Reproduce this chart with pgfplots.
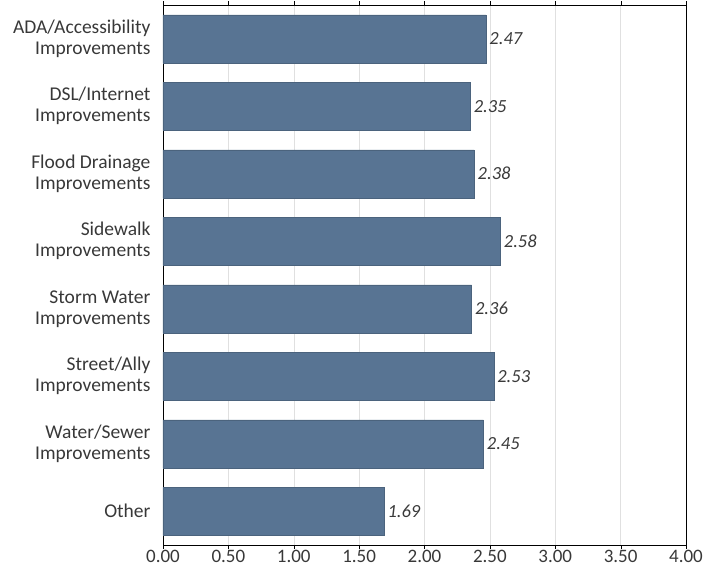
\documentclass[border=0pt]{standalone}
\usepackage{pgfplots}
\pgfplotsset{compat=1.18}
\usepackage{fontspec}
\setmainfont{Carlito}
\definecolor{barblue}{HTML}{587493}
\definecolor{valgray}{HTML}{3A3A3A}
\begin{document}
\begin{tikzpicture}
\begin{axis}[
  name=ax,
  scale only axis,
  width=523pt, height=540pt,
  xmin=0, xmax=4,
  ymin=-0.5, ymax=7.5,
  y dir=reverse,
  xbar, bar width=48pt,
  xtick={0,0.5,...,4},
  /pgf/number format/assume math mode=true,
  xticklabel={\pgfmathprintnumber[fixed,fixed zerofill,precision=2]{\tick}},
  ytick={0,...,7},
  yticklabels={{ADA/Accessibility\\Improvements},{DSL/Internet\\Improvements},{Flood Drainage\\Improvements},{Sidewalk\\Improvements},{Storm Water\\Improvements},{Street/Ally\\Improvements},{Water/Sewer\\Improvements},{Other}},
  yticklabel style={align=right, font=\fontsize{19.5}{21}\selectfont, text=black!78, xshift=-5pt},
  xticklabel style={font=\fontsize{19}{21}\selectfont, text=black!78, yshift=2pt},
  major tick length=4pt,
  ytick style={draw=none},
  tick align=outside,
  xtick style={draw=black},
  extra y ticks={-0.5,0.5,1.5,2.5,3.5,4.5,5.5,6.5,7.5},
  extra y tick labels={},
  extra y tick style={draw=black, grid=none},
  xmajorgrids,
  grid style={draw=black!12},
  axis line style={draw=black, line width=0.9pt},
  nodes near coords,
  nodes near coords style={font=\fontsize{18.5}{21}\selectfont\itshape, text=valgray, anchor=west, xshift=0pt},
  point meta=explicit symbolic,
]
\addplot[fill=barblue, draw=barblue!85!black] coordinates {
  (2.47,0) [2.47]
  (2.35,1) [2.35]
  (2.38,2) [2.38]
  (2.58,3) [2.58]
  (2.36,4) [2.36]
  (2.53,5) [2.53]
  (2.45,6) [2.45]
  (1.69,7) [1.69]
};
\end{axis}
\path ([xshift=-163pt,yshift=-39pt]ax.south west) rectangle ([xshift=22pt,yshift=5pt]ax.north east);
\end{tikzpicture}
\end{document}
